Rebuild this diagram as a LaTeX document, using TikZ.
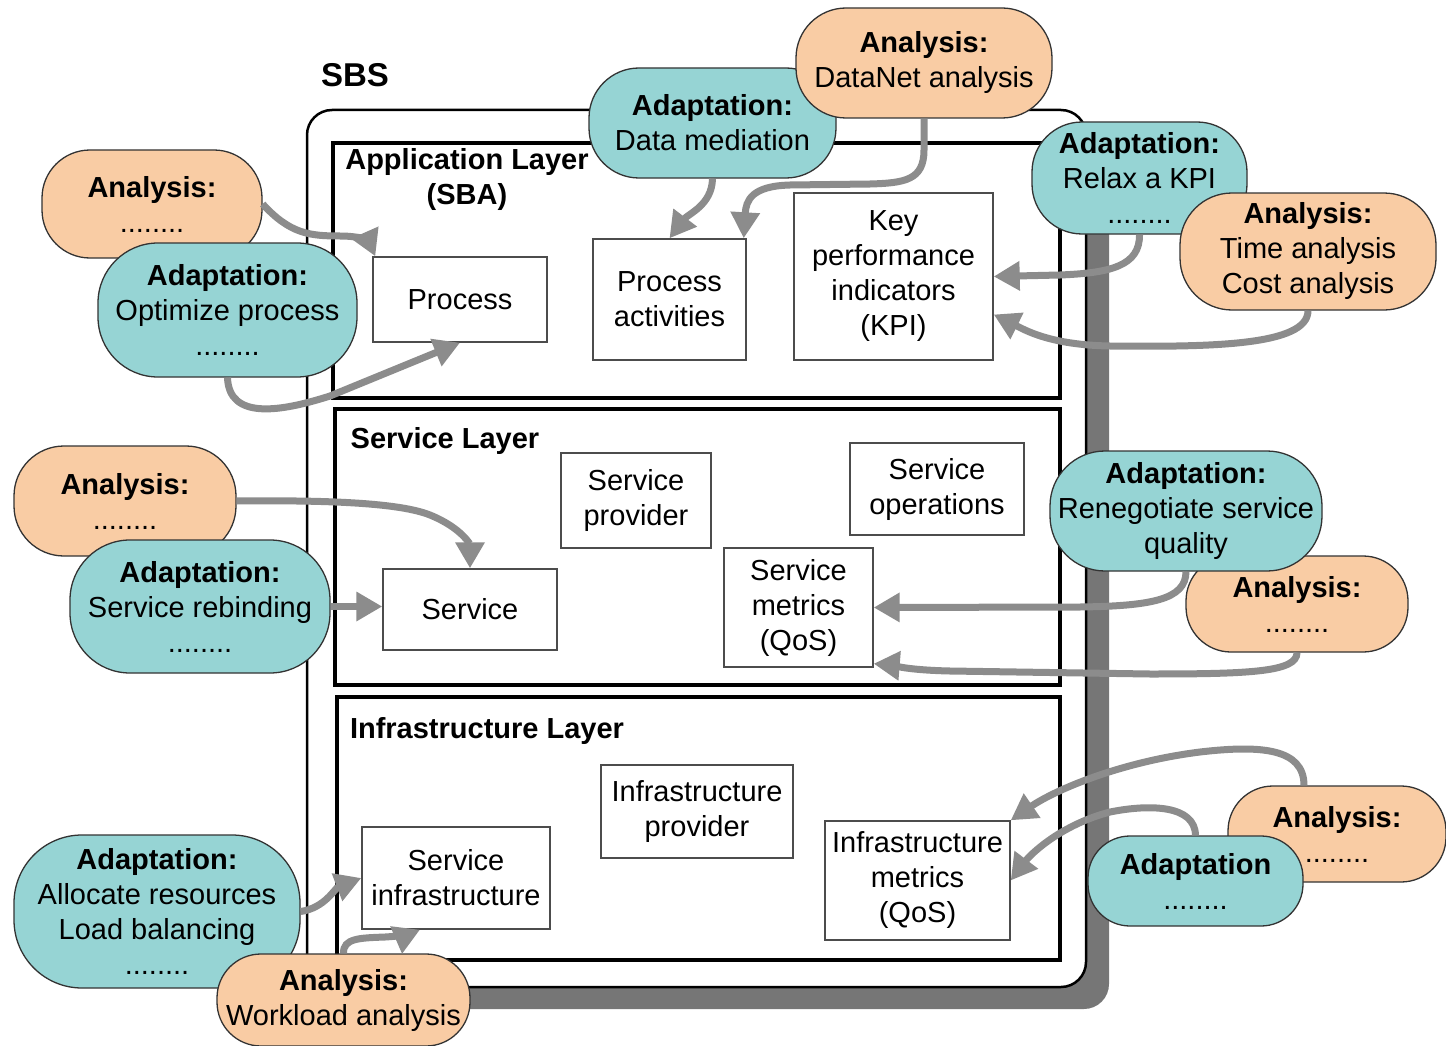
\documentclass[tikz,border=0pt]{standalone}
\usepackage{fontspec}
\setmainfont{Liberation Sans}
\usetikzlibrary{arrows.meta,calc,positioning}
\definecolor{anaorange}{RGB}{249,204,164}
\definecolor{adateal}{RGB}{150,212,212}
\definecolor{flowgray}{RGB}{140,140,140}
\definecolor{shadowgray}{RGB}{118,118,118}

\begin{document}
\begin{tikzpicture}[x=1pt,y=-1pt,
    every node/.style={font=\fontsize{29}{35}\selectfont},
    bubble/.style={draw=black!80, line width=1.3pt, align=center, inner sep=0pt},
    analysis/.style={bubble, fill=anaorange},
    adaptation/.style={bubble, fill=adateal},
    comp/.style={draw=black!70, line width=1.4pt, fill=white, align=center, inner sep=0pt},
    layer/.style={line width=4pt},
    flow/.style={draw=flowgray, line width=7pt, -{Triangle[length=26pt,width=28pt]}}]
    \useasboundingbox (0,0) rectangle (1446,1046);

    % SBS frame with its shadow
    \fill[shadowgray, rounded corners=25pt] (329,132) rectangle (1109,1009);
    \draw[line width=2.5pt, fill=white, rounded corners=25pt] (307,110) rectangle (1086,987);
    \node[font=\fontsize{33}{40}\selectfont\bfseries] (sbs) at (355,75) {SBS};

    % layers
    \draw[layer] (333,143) rectangle (1060,398);
    \draw[layer] (335,409) rectangle (1060,685);
    \draw[layer] (337,697) rectangle (1060,960);
    \node[align=center] (applbl) at (467,180) {\textbf{Application Layer}\\\textbf{(SBA)}};
    \node (svclbl) at (445,441) {\textbf{Service Layer}};
    \node (inflbl) at (487,731) {\textbf{Infrastructure Layer}};

    \node[comp, minimum width=174pt, minimum height=85pt] (proc) at (460,299.5) {Process};
    \node[comp, minimum width=153pt, minimum height=121pt] (pact) at (669.5,299.5) {Process\\activities};
    \node[comp, minimum width=199pt, minimum height=167pt] (kpi) at (893.5,276.5) {Key\\performance\\indicators\\(KPI)};
    \node[comp, minimum width=150pt, minimum height=95pt] (sprov) at (636,500.5) {Service\\provider};
    \node[comp, minimum width=174pt, minimum height=92pt] (sops) at (937,489) {Service\\operations};
    \node[comp, minimum width=174pt, minimum height=81pt] (serv) at (470,609.5) {Service};
    \node[comp, minimum width=149pt, minimum height=119pt] (smet) at (798.5,607.5) {Service\\metrics\\(QoS)};
    \node[comp, minimum width=192pt, minimum height=93pt] (iprov) at (697,811.5) {Infrastructure\\provider};
    \node[comp, minimum width=188pt, minimum height=102pt] (sinf) at (456,878) {Service\\infrastructure};
    \node[comp, minimum width=185pt, minimum height=119pt] (imet) at (917.5,880.5) {Infrastructure\\metrics\\(QoS)};

    % analysis and adaptation bubbles
    \node[analysis, rounded corners=48pt, minimum width=220pt, minimum height=108pt] (an1) at (152,204) {\textbf{Analysis:}\\........};
    \node[adaptation, rounded corners=60pt, minimum width=259pt, minimum height=134pt] (ad1) at (227.5,310) {\textbf{Adaptation:}\\Optimize process\\........};
    \node[adaptation, rounded corners=50pt, minimum width=247pt, minimum height=110pt] (ad2) at (712.5,123) {\textbf{Adaptation:}\\Data mediation};
    \node[analysis, rounded corners=50pt, minimum width=256pt, minimum height=110pt] (an2) at (924,63) {\textbf{Analysis:}\\DataNet analysis};
    \node[adaptation, rounded corners=50pt, minimum width=215pt, minimum height=112pt] (ad3) at (1139.5,178) {\textbf{Adaptation:}\\Relax a KPI\\........};
    \node[analysis, rounded corners=52pt, minimum width=256pt, minimum height=117pt] (an3) at (1308,251.5) {\textbf{Analysis:}\\Time analysis\\Cost analysis};
    \node[analysis, rounded corners=50pt, minimum width=222pt, minimum height=110pt] (an4) at (125,501) {\textbf{Analysis:}\\........};
    \node[adaptation, rounded corners=60pt, minimum width=260pt, minimum height=133pt] (ad4) at (200,606.5) {\textbf{Adaptation:}\\Service rebinding\\........};
    \node[analysis, rounded corners=45pt, minimum width=222pt, minimum height=96pt] (an5) at (1297,604) {\textbf{Analysis:}\\........};
    \node[adaptation, rounded corners=55pt, minimum width=272pt, minimum height=120pt] (ad5) at (1186,511) {\textbf{Adaptation:}\\Renegotiate service\\quality};
    \node[analysis, rounded corners=45pt, minimum width=218pt, minimum height=96pt] (an6) at (1337,834) {\textbf{Analysis:}\\........};
    \node[adaptation, rounded corners=42pt, minimum width=215pt, minimum height=90pt] (ad6) at (1195.5,881) {\textbf{Adaptation}\\........};
    \node[adaptation, rounded corners=68pt, minimum width=286pt, minimum height=153pt] (ad7) at (157,911.5) {\textbf{Adaptation:}\\Allocate resources\\Load balancing\\........};
    \node[analysis, rounded corners=44pt, minimum width=253pt, minimum height=92pt] (an7) at (343.5,1000) {\textbf{Analysis:}\\Workload analysis};

    % feedback arrows
    \draw[flow] (an1.east) .. controls (290,234) and (310,236) .. (340,236) .. controls (362,236) and (369,242) .. ([xshift=3pt]proc.north west);
    \draw[flow] (ad1.south) .. controls (229,420) and (280,412) .. (330,396) -- (proc.south);
    \draw[flow] (ad2.south) .. controls (712,205) and (688,214) .. (pact.north);
    \draw[flow] (an2.south) -- (924,150) .. controls (924,180) and (905,183) .. (870,184) -- (790,185) .. controls (752,186) and (746,200) .. ([xshift=-3pt]pact.north east);
    \draw[flow] (ad3.south) .. controls (1140,266) and (1110,273) .. (1060,275) -- (kpi.east);
    \draw[flow] (an3.south) .. controls (1308,346) and (1210,347) .. (1110,346) .. controls (1050,345) and (1025,330) .. ($(kpi.east)+(0,38)$);
    \draw[flow] (an4.east) .. controls (330,500) and (400,503) .. (430,515) .. controls (462,528) and (470,545) .. (serv.north);
    \draw[flow] (ad4.east) -- (ad4.east -| serv.west);
    \draw[flow] (ad5.south) .. controls (1186,600) and (1150,606) .. (1080,607) -- (smet.east);
    \draw[flow] (an5.south) .. controls (1297,672) and (1250,674) .. (1150,674) -- (950,671) .. controls (905,670) and (890,665) .. ([yshift=4pt]smet.south east);
    \draw[flow] ($(an6.north)+(-33,0)$) .. controls (1304,748) and (1260,745) .. (1200,752) .. controls (1120,762) and (1055,790) .. (imet.north east);
    \draw[flow] (ad6.north) .. controls (1195,805) and (1150,804) .. (1110,812) .. controls (1060,825) and (1030,855) .. (imet.east);
    \draw[flow] (ad7.east) .. controls (325,908) and (335,888) .. (sinf.west);
    \draw[flow] (an7.north) .. controls (343,938) and (360,938) .. (385,937) .. controls (402,936) and (410,934) .. ($(sinf.south)+(-36,0)$);
\end{tikzpicture}
\end{document}
